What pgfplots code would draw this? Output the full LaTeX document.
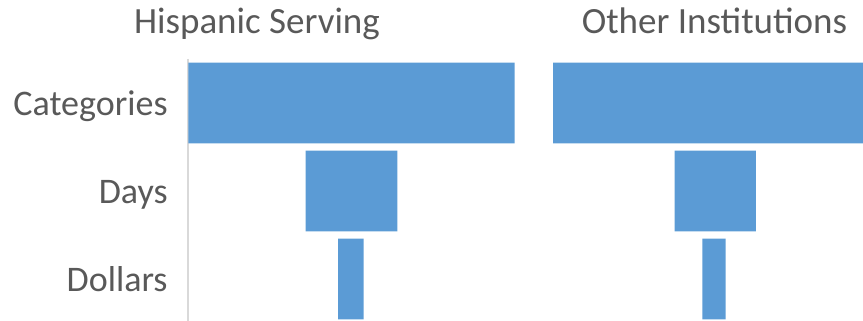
\documentclass[border=0pt]{standalone}
\usepackage{fontspec}
\setmainfont{Carlito}
\usepackage{pgfplots}
\pgfplotsset{compat=1.18}
\usepackage{pgfplotstable}
\definecolor{barblue}{HTML}{5B9BD5}
\definecolor{txtgray}{HTML}{595959}
\definecolor{axgray}{HTML}{D9D9D9}

% row: 0 = Categories, 1 = Days, 2 = Dollars
\pgfplotstableread{
row offset value
0 0.5 326
1 117.65 91.7
2 150.0 25.6
}\hsi
\pgfplotstableread{
row offset value
0 1 325
1 122.5 81.4
2 150.3 23.4
}\other

\pgfplotsset{funnel/.style={
  scale only axis, width=163.5pt, height=132pt,
  xbar stacked, bar width=0.92,
  xmin=0, xmax=327, ymin=-0.5, ymax=2.5, y dir=reverse,
  anchor=north west, xtick=\empty, clip=false,
}}

\begin{document}
\begin{tikzpicture}
\useasboundingbox (0,0) rectangle (431.5pt,160.5pt);
\clip (0,0) rectangle (431.5pt,160.5pt);

\begin{axis}[funnel, at={(94pt,131pt)},
  axis x line=none, axis y line*=left,
  axis line style={axgray, line width=0.6pt},
  ytick={0,1,2}, yticklabels={Categories,Days,Dollars},
  major tick length=0pt,
  y tick label style={text=txtgray, font=\fontsize{18}{22}\selectfont, inner sep=0pt, anchor=base east, xshift=-10pt, yshift=-6.25pt},
]
\addplot[draw=none, fill=none] table[x=offset, y=row]{\hsi};
\addplot[fill=barblue, draw=none] table[x=value, y=row]{\hsi};
\end{axis}

\begin{axis}[funnel, at={(276pt,131pt)}, hide axis]
\addplot[draw=none, fill=none] table[x=offset, y=row]{\other};
\addplot[fill=barblue, draw=none] table[x=value, y=row]{\other};
\end{axis}

\node[anchor=base, text=txtgray, font=\fontsize{18.5}{22}\selectfont] at (128.5pt,143.5pt) {Hispanic Serving};
\node[anchor=base, text=txtgray, font=\fontsize{18.5}{22}\selectfont] at (357.25pt,143.5pt) {Other Institutions};
\end{tikzpicture}
\end{document}
